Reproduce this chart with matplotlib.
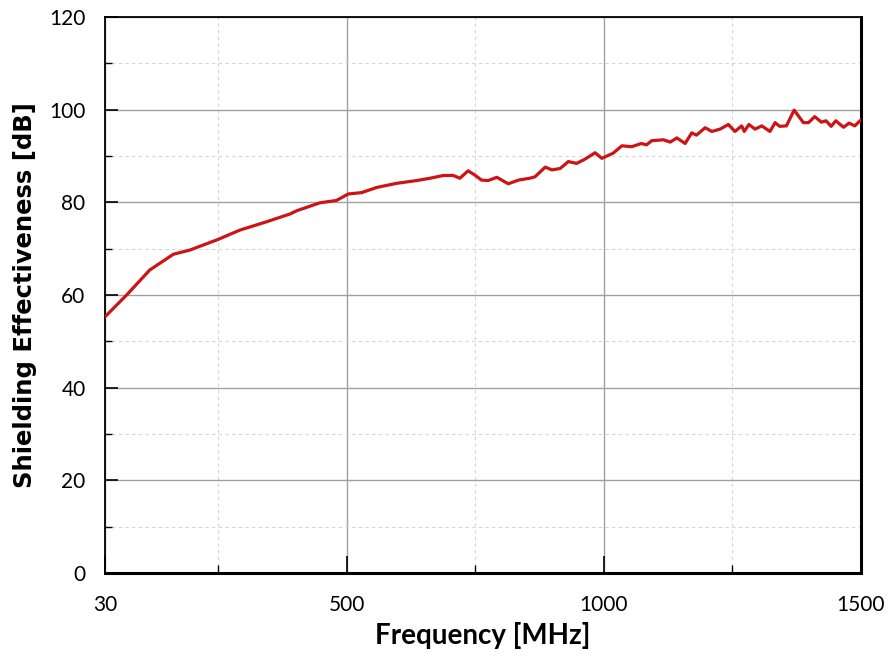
import matplotlib.pyplot as plt
from matplotlib.ticker import FixedLocator

# Frequency [MHz] and shielding effectiveness [dB]
freq = [30, 72, 117, 163, 195, 250, 292, 344, 390, 403, 448, 480, 503, 529,
        558, 597, 636, 662, 688, 707, 720, 736, 749, 762, 775, 792, 814, 834,
        856, 866, 886, 899, 915, 931, 947, 963, 983, 996, 1018, 1035, 1054,
        1073, 1083, 1093, 1116, 1129, 1142, 1158, 1171, 1180, 1197, 1210,
        1226, 1242, 1255, 1268, 1273, 1282, 1294, 1307, 1323, 1333, 1342,
        1355, 1370, 1388, 1398, 1410, 1423, 1432, 1442, 1451, 1466, 1477,
        1488, 1500]
se_db = [55.3, 60.0, 65.4, 68.8, 69.7, 72.0, 74.0, 75.8, 77.5, 78.2, 79.9,
         80.4, 81.8, 82.1, 83.2, 84.1, 84.7, 85.2, 85.8, 85.8, 85.2, 86.8,
         85.9, 84.8, 84.7, 85.4, 84.0, 84.8, 85.2, 85.5, 87.6, 87.0, 87.3,
         88.8, 88.4, 89.3, 90.7, 89.5, 90.6, 92.2, 92.0, 92.7, 92.4, 93.3,
         93.5, 93.0, 93.9, 92.7, 95.0, 94.5, 96.1, 95.3, 95.8, 96.8, 95.3,
         96.5, 95.3, 96.8, 95.8, 96.5, 95.3, 97.2, 96.4, 96.5, 99.9, 97.2,
         97.2, 98.5, 97.3, 97.6, 96.4, 97.6, 96.2, 97.1, 96.5, 97.8]

x_major = [30, 500, 1000, 1500]
x_minor = [250, 750, 1250]
y_major = [0, 20, 40, 60, 80, 100, 120]
y_minor = [10, 30, 50, 70, 90, 110]

fig = plt.figure(figsize=(8.9, 6.61), dpi=100)
ax = fig.add_axes([0.118, 0.1331, 0.8494, 0.8412])

ax.plot(freq, se_db, color="#CC1414", linewidth=2.3, zorder=3)

ax.set_xlim(30, 1500)
ax.set_ylim(0, 120)
ax.xaxis.set_major_locator(FixedLocator(x_major))
ax.xaxis.set_minor_locator(FixedLocator(x_minor))
ax.yaxis.set_major_locator(FixedLocator(y_major))
ax.yaxis.set_minor_locator(FixedLocator(y_minor))

ax.grid(True, which="major", color="#a0a0a0", linewidth=1.0, linestyle="-")
ax.grid(True, which="minor", color="#d4d4d4", linewidth=0.8, linestyle=(0, (3, 3)))
ax.set_axisbelow(True)

tick_font = "Lato"
ax.tick_params(axis="both", which="both", direction="in", colors="black",
               labelsize=15)
ax.tick_params(axis="x", which="major", length=12, width=1.2, pad=16)
ax.tick_params(axis="x", which="minor", length=6, width=1.0)
ax.tick_params(axis="y", which="major", length=9, width=1.2, pad=14)
ax.tick_params(axis="y", which="minor", length=5, width=1.0)
for lbl in ax.get_xticklabels() + ax.get_yticklabels():
    lbl.set_fontfamily(tick_font)

ax.spines["top"].set_linewidth(1.3)
ax.spines["left"].set_linewidth(1.3)
ax.spines["right"].set_linewidth(2.2)
ax.spines["bottom"].set_linewidth(2.2)

ax.set_xlabel("Frequency [MHz]", fontfamily="Lato", fontweight="bold",
              fontsize=20, labelpad=5)
ax.set_ylabel("Shielding Effectiveness [dB]", fontfamily="DejaVu Sans",
              fontweight="bold", fontsize=17.5, labelpad=9)

fig.savefig("out.png", dpi=100)
